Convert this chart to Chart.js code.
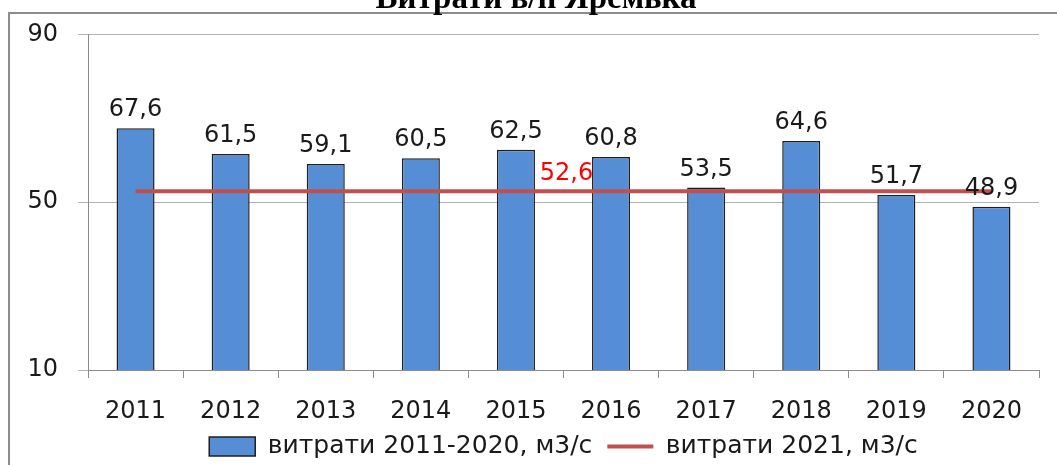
<!DOCTYPE html>
<html>
<head>
<meta charset="utf-8">
<script src="https://cdn.jsdelivr.net/npm/chart.js@4.4.1/dist/chart.umd.min.js"></script>
<style>
html,body{margin:0;padding:0;background:#fff;overflow:hidden;}
#wrap{position:absolute;left:0;top:0;width:1057px;height:465px;}
</style>
</head>
<body>
<div id="wrap"><canvas id="c" width="1057" height="465"></canvas></div>
<script>
const titleText = 'Витрати в/п Яремька';
const categories = ['2011','2012','2013','2014','2015','2016','2017','2018','2019','2020'];
const flows = [67.6, 61.5, 59.1, 60.5, 62.5, 60.8, 53.5, 64.6, 51.7, 48.9];
const flow2021 = [52.6, 52.6, 52.6, 52.6, 52.6, 52.6, 52.6, 52.6, 52.6, 52.6];
const seriesNames = ['витрати 2011-2020, м3/с', 'витрати 2021, м3/с'];
const yTicks = [10, 50, 90];

const fmt = v => v.toFixed(1).replace('.', ',');
const FONT = "'DejaVu Sans', Verdana, sans-serif";

const decor = {
  id: 'decor',
  afterLayout(chart) {
    // centre the legend under the plot area, as in the original
    const lg = chart.legend;
    const ca = chart.chartArea;
    const shift = (ca.left + ca.right) / 2 - (lg.left + lg.right) / 2;
    lg.left += shift; lg.right += shift;
    lg.top -= 8; lg.bottom -= 8;
  },
  beforeDraw(chart) {
    const ctx = chart.ctx;
    ctx.save();
    ctx.strokeStyle = '#8c8c8c';
    ctx.lineWidth = 2;
    ctx.beginPath();
    ctx.moveTo(9, 470);
    ctx.lineTo(9, 13);
    ctx.lineTo(1070, 13);
    ctx.stroke();
    ctx.fillStyle = '#000';
    ctx.font = "bold 33px 'Liberation Serif', 'Times New Roman', serif";
    ctx.textAlign = 'center';
    ctx.textBaseline = 'alphabetic';
    ctx.fillText(titleText, 536, 8);
    ctx.restore();
  },
  afterDatasetsDraw(chart) {
    const ctx = chart.ctx;
    const xs = chart.scales.x, ys = chart.scales.y;
    ctx.save();
    ctx.font = '24px ' + FONT;
    ctx.textAlign = 'center';
    ctx.textBaseline = 'alphabetic';
    ctx.fillStyle = '#1a1a1a';
    flows.forEach((v, i) => {
      ctx.fillText(fmt(v), xs.getPixelForValue(i), ys.getPixelForValue(v) - 12);
    });
    ctx.fillStyle = '#ff0000';
    const avgLabelAt = 4.5;
    ctx.fillText(fmt(flow2021[0]), xs.getPixelForValue(avgLabelAt) + 3, ys.getPixelForValue(flow2021[0]) - 11);
    ctx.restore();
  }
};

new Chart(document.getElementById('c'), {
  data: {
    labels: categories,
    datasets: [
      {
        type: 'line',
        label: seriesNames[1],
        data: flow2021,
        borderColor: '#c0504d',
        backgroundColor: '#c0504d',
        borderWidth: 4,
        pointRadius: 0,
        pointStyle: 'line',
        order: 0
      },
      {
        type: 'bar',
        label: seriesNames[0],
        data: flows,
        backgroundColor: '#558ed5',
        borderColor: '#1f1f1f',
        borderWidth: 1.5,
        barPercentage: 0.4,
        categoryPercentage: 1,
        pointStyle: 'rect',
        order: 1
      }
    ]
  },
  options: {
    responsive: false,
    animation: false,
    layout: { padding: { left: 0, top: 30, right: 18, bottom: -12 } },
    plugins: {
      title: { display: false },
      tooltip: { enabled: false },
      legend: {
        position: 'bottom',
        reverse: true,
        labels: {
          usePointStyle: true,
          pointStyleWidth: 46,
          boxHeight: 19,
          color: '#1a1a1a',
          font: { family: FONT, size: 25 },
          padding: 15
        }
      }
    },
    scales: {
      x: {
        offset: true,
        grid: { display: true, drawOnChartArea: false, drawTicks: true, tickLength: 8, color: '#8c8c8c', offset: true },
        border: { display: true, color: '#8c8c8c', width: 1 },
        ticks: { color: '#1a1a1a', font: { family: FONT, size: 24 }, padding: 19, maxRotation: 0 },
        afterFit(s) { s.height = 57; }
      },
      y: {
        min: 10, max: 90,
        afterBuildTicks(s) { s.ticks = yTicks.map(v => ({ value: v })); },
        grid: { color: '#b3b3b3', tickLength: 10, drawTicks: true },
        border: { display: true, color: '#8c8c8c', width: 1 },
        ticks: { color: '#1a1a1a', font: { family: FONT, size: 24 }, padding: 20 },
        afterFit(s) { s.width = 88; }
      }
    }
  },
  plugins: [decor]
});
</script>
</body>
</html>
